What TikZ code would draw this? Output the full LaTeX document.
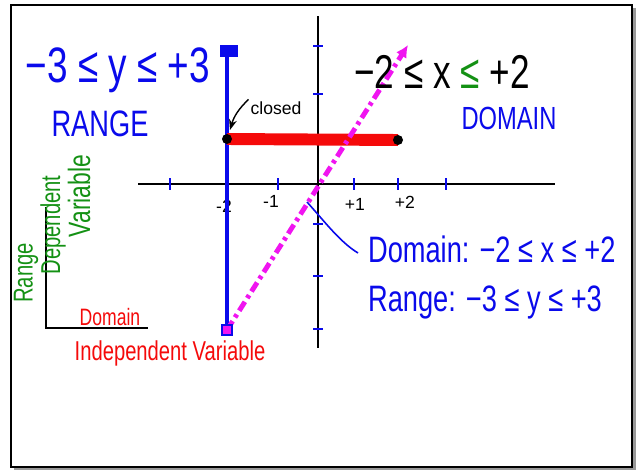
\documentclass[tikz,border=0pt]{standalone}
\usepackage{fontspec}
\setmainfont{Liberation Sans}
\usepackage{xcolor}
\usepackage{graphicx}
\usetikzlibrary{arrows.meta, positioning, calc}

\definecolor{penblue}{RGB}{10,10,235}
\definecolor{penred}{RGB}{245,10,10}
\definecolor{pengreen}{RGB}{20,145,20}
\definecolor{penpink}{RGB}{240,20,240}

% handwriting is taller than the font
\newcommand{\handtext}[1]{\scalebox{1}[1.35]{#1}}

\tikzset{
  pen/.style={inner sep=1pt},
  axisline/.style={line width=1.2pt, black},
  tickmark/.style={line width=1.1pt, penblue},
  ticklabel/.style={font=\fontsize{10}{12}\selectfont, inner sep=1pt},
  dashdotline/.style={line width=2.8pt, penpink,
    dash pattern=on 6pt off 2.5pt on 2pt off 2.5pt},
}

\begin{document}
\begin{tikzpicture}[x=0.02cm, y=-0.02cm]
  \useasboundingbox (0,0) rectangle (639,470);
  % Board frame with shadow
  \fill[gray!80] (14,8) rectangle (636,470);
  \filldraw[fill=white, draw=black, line width=1.6pt] (11,5) rectangle (632,467);
  % Axes
  \coordinate (origin) at (318,184);
  \draw[axisline] (138,184) -- (555,184);
  \draw[axisline] (318,16) -- (318,348);
  \foreach \tx in {170,226,278,354,398,446} {
    \draw[tickmark] (\tx,178) -- (\tx,190);
  }
  \foreach \ty in {46,94,139,224,276,329} {
    \draw[tickmark] (313,\ty) -- (323,\ty);
  }
  \node[ticklabel] (lblma) at (224,206) {-2};
  \node[ticklabel] (lblmb) at (271,201) {-1};
  \node[ticklabel] (lblpa) at (355,204) {+1};
  \node[ticklabel] (lblpb) at (405,202) {+2};
  % Range: blue segment x = -2
  \coordinate (rangebot) at (227,330);
  \coordinate (rangetop) at (227,52);
  \draw[penblue, line width=2.8pt] (rangebot) -- (rangetop);
  \fill[penblue] (220,45) rectangle (238,57);
  % Domain: red bar y = 1
  \coordinate (leftdot) at (227,139);
  \coordinate (rightdot) at (398,140);
  \draw[penred, line width=6.8pt] (leftdot) -- (rightdot);
  \fill (leftdot) circle (5);
  \fill (rightdot) circle (5);
  % Dash-dot line
  \coordinate (pinktop) at (408,45);
  \draw[dashdotline, -{Latex[length=7pt, width=7pt]}] (rangebot) -- (pinktop);
  \filldraw[fill=penpink, draw=penblue, line width=0.8pt] (222,325) rectangle (232,335);
  % Handwritten labels
  \node[pen, penblue, font=\fontsize{21}{24}\selectfont] (rangeineq) at (118,70) {\handtext{−3 ≤ y ≤ +3}};
  \node[pen, penblue, font=\fontsize{15.5}{18}\selectfont] (rangeword) at (100,124) {\handtext{RANGE}};
  \node[pen, font=\fontsize{20}{24}\selectfont] (domainineq) at (442,72) {\handtext{−2 ≤ x {\color{pengreen}≤} +2}};
  \node[pen, penblue, font=\fontsize{13.5}{16}\selectfont] (domainword) at (509,118) {\handtext{DOMAIN}};
  \node[pen, font=\fontsize{10}{12}\selectfont] (closed) at (276,108) {closed};
  \draw[-{Stealth[length=6pt]}, line width=0.8pt] (closed.north west) to[bend right=15] ($(leftdot)+(3,-9)$);
  % Summary
  \node[pen, penblue, anchor=west, font=\fontsize{15.5}{18}\selectfont] (domainstmt) at (366,249) {\handtext{Domain: −2 ≤ x ≤ +2}};
  \node[pen, penblue, anchor=west, font=\fontsize{15.5}{18}\selectfont] (rangestmt) at (366,302) {\handtext{Range: −3 ≤ y ≤ +3}};
  \coordinate (pointer) at (307,202);
  \draw[penblue, line width=0.9pt] (pointer) .. controls (325,222) and (340,242) .. ($(domainstmt.west)+(-8,4)$);
  % Small reference axes
  \coordinate (smallorigin) at (46,328);
  \draw[line width=1.1pt] (46,207) -- (smallorigin) -- (148,328);
  \node[pen, penred, font=\fontsize{10}{12}\selectfont, anchor=south] (domainside) at (110,328) {\handtext{Domain}};
  \node[pen, penred, font=\fontsize{11.5}{14}\selectfont] (indepvar) at (170,353) {\handtext{Independent Variable}};
  \node[pen, pengreen, rotate=90, font=\fontsize{11.5}{14}\selectfont] (rangeside) at (26,273) {\handtext{Range}};
  \node[pen, pengreen, rotate=90, font=\fontsize{11.5}{14}\selectfont] (depword) at (53,225) {\handtext{Dependent}};
  \node[pen, pengreen, rotate=90, font=\fontsize{13}{16}\selectfont] (varword) at (79,196) {\handtext{Variable}};
\end{tikzpicture}
\end{document}
